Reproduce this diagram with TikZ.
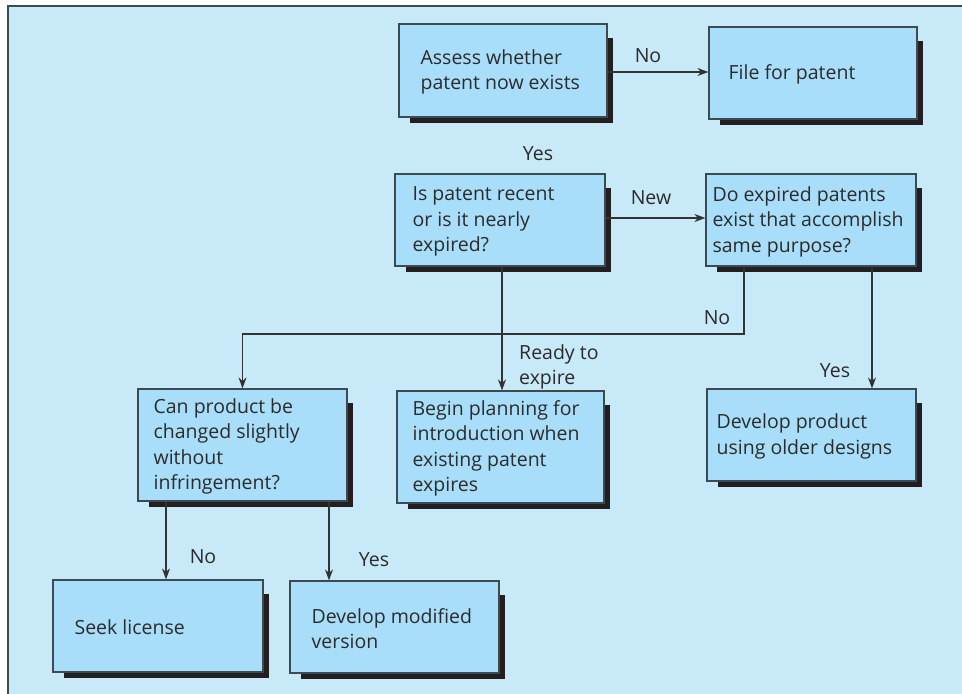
\documentclass[tikz,border=0pt]{standalone}
\usepackage{fontspec}
\setmainfont{Open Sans}
\usetikzlibrary{arrows.meta,calc}
\pgfdeclarelayer{bg}
\pgfdeclarelayer{shd}
\pgfsetlayers{bg,shd,main}
\definecolor{bgblue}{HTML}{C7E9F8}
\definecolor{boxblue}{HTML}{A8DEF9}
\definecolor{edgec}{HTML}{3C4A52}
\definecolor{shadowc}{HTML}{231F20}
\definecolor{textc}{HTML}{2B2B2B}
\definecolor{linec}{HTML}{333333}
\tikzset{
  box/.style={draw=edgec, fill=boxblue, line width=1.2pt, inner sep=0pt, rectangle},
  txt/.style={align=left, inner sep=0pt, text=textc, font=\fontsize{19.5}{25.5}\selectfont},
  lbl/.style={inner sep=0pt, text=textc, font=\fontsize{19.5}{25.5}\selectfont},
  conn/.style={draw=linec, line width=1.2pt},
  arr/.style={conn, -{Stealth[length=11pt,width=8pt]}},
}
\newcommand\pbox[5]{%
  \node[box, minimum width={#4-#2}, minimum height={#5-#3}] (#1) at ({(#2+#4)/2},{(#3+#5)/2}) {};
  \begin{pgfonlayer}{shd}
    \fill[shadowc] ($(#1.north west)+(12,15)$) rectangle ($(#1.south east)+(5,5)$);
  \end{pgfonlayer}}
\begin{document}
\begin{tikzpicture}[x=1pt,y=-1pt]
\useasboundingbox (0,0) rectangle (962,694);
\begin{pgfonlayer}{bg}
  \fill[bgblue] (8,6) rectangle (962,694);
  \draw[edgec, line width=1.5pt] (8,694) -- (8,6) -- (962,6);
\end{pgfonlayer}

% boxes
\pbox{assess}{399}{24}{607}{117}
\pbox{file}{709}{27}{917}{119}
\pbox{recent}{395}{174}{605}{266}
\pbox{expired}{706}{174}{916}{266}
\pbox{change}{138}{389}{347}{501}
\pbox{plan}{397}{391}{604}{503}
\pbox{older}{707}{389}{916}{481}
\pbox{seek}{53}{580}{263}{672}
\pbox{modified}{290}{581}{499}{673}

% texts
\node[txt, anchor=west] (tassess) at ($(assess.west)+(22,1.5)$) {Assess whether\\patent now exists};
\node[txt, anchor=west] (tfile) at ($(file.west)+(20,1.5)$) {File for patent};
\node[txt, anchor=west] (trecent) at ($(recent.west)+(18,1.5)$) {Is patent recent\\or is it nearly\\expired?};
\node[txt, anchor=west] (texpired) at ($(expired.west)+(7,1.5)$) {Do expired patents\\exist that accomplish\\same purpose?};
\node[txt, anchor=west] (tchange) at ($(change.west)+(16,1.5)$) {Can product be\\changed slightly\\without\\infringement?};
\node[txt, anchor=west] (tplan) at ($(plan.west)+(16,1.5)$) {Begin planning for\\introduction when\\existing patent\\expires};
\node[txt, anchor=west] (tolder) at ($(older.west)+(10,1.5)$) {Develop product\\using older designs};
\node[txt, anchor=west] (tseek) at ($(seek.west)+(22,1.5)$) {Seek license};
\node[txt, anchor=west] (tmodified) at ($(modified.west)+(22,1.5)$) {Develop modified\\version};

% coordinates
\coordinate (jn) at (744,334);
\coordinate (xyes) at (872,0);
\coordinate (xno2) at (166,0);
\coordinate (xyes2) at (329,0);

% connectors
\draw[arr] (assess.east |- 0,72) -- (file.west |- 0,72);
\draw[arr] (recent.east |- 0,218) -- (expired.west |- 0,218);
\draw[arr] (recent.south -| 502,0) -- (plan.north -| 502,0);
\draw[arr] (expired.south -| jn) -- (jn) -| (change.north);
\draw[arr] (expired.south -| xyes) -- (older.north -| xyes);
\draw[arr] (change.south -| xno2) -- (seek.north -| xno2);
\draw[arr] (change.south -| xyes2) -- (modified.north -| xyes2);

% labels
\node[lbl] (lno1) at (648,56) {No};
\node[lbl] (lyes1) at (538,154) {Yes};
\node[lbl] (lnew) at (651,198) {New};
\node[lbl] (lno2) at (717,318) {No};
\node[txt, anchor=west] (lready) at (519,367) {Ready to\\expire};
\node[lbl] (lyes2) at (835,371) {Yes};
\node[lbl] (lno3) at (203,557) {No};
\node[lbl] (lyes3) at (374,560) {Yes};
\end{tikzpicture}
\end{document}
